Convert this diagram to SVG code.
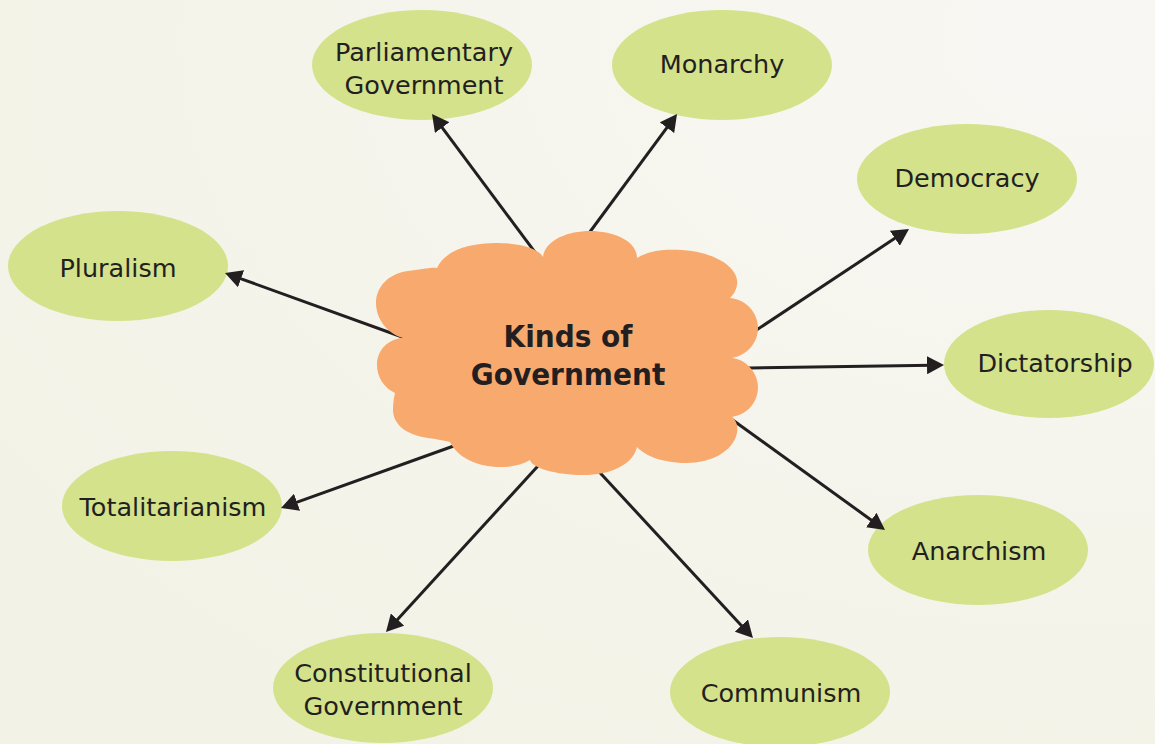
<svg xmlns="http://www.w3.org/2000/svg" width="1155" height="744" viewBox="0 0 1155 744">
  <defs>
    <radialGradient id="bg" cx="0.95" cy="0.05" r="1.2">
      <stop offset="0" stop-color="#f8f7f3"/>
      <stop offset="1" stop-color="#f3f2e6"/>
    </radialGradient>
    <marker id="arrow" markerUnits="userSpaceOnUse" markerWidth="18" markerHeight="18" refX="5" refY="9" orient="auto">
      <path d="M0,0 L17,9 L0,18 z" fill="#231f20"/>
    </marker>
    <style>
      .node ellipse { fill: #d4e28b; }
      .node text { font-family: "DejaVu Sans", "Liberation Sans", sans-serif; font-size: 25.5px; fill: #231f20; text-anchor: middle; }
      #connectors line { stroke: #231f20; stroke-width: 3; marker-end: url(#arrow); }
      .cloud path { fill: #f8a96e; }
      .cloud text { font-family: "DejaVu Sans", "Liberation Sans", sans-serif; font-weight: bold; font-size: 28px; fill: #231f20; text-anchor: middle; }
    </style>
  </defs>

  <rect width="1155" height="744" fill="url(#bg)"/>

  <!-- outer nodes -->
  <g id="parliamentary" class="node">
    <ellipse cx="422" cy="65" rx="110" ry="55"/>
    <text x="424" y="61">Parliamentary</text>
    <text x="424" y="94">Government</text>
  </g>
  <g id="monarchy" class="node">
    <ellipse cx="722" cy="65" rx="110" ry="55"/>
    <text x="722" y="73">Monarchy</text>
  </g>
  <g id="democracy" class="node">
    <ellipse cx="967" cy="179" rx="110" ry="55"/>
    <text x="967" y="187">Democracy</text>
  </g>
  <g id="dictatorship" class="node">
    <ellipse cx="1049" cy="364" rx="105" ry="54"/>
    <text x="1055" y="372">Dictatorship</text>
  </g>
  <g id="anarchism" class="node">
    <ellipse cx="978" cy="550" rx="110" ry="55"/>
    <text x="979" y="560">Anarchism</text>
  </g>
  <g id="communism" class="node">
    <ellipse cx="780" cy="692" rx="110" ry="55"/>
    <text x="781" y="702">Communism</text>
  </g>
  <g id="constitutional" class="node">
    <ellipse cx="383" cy="688" rx="110" ry="55"/>
    <text x="383" y="682">Constitutional</text>
    <text x="383" y="715">Government</text>
  </g>
  <g id="totalitarianism" class="node">
    <ellipse cx="172" cy="506" rx="110" ry="55"/>
    <text x="173" y="516">Totalitarianism</text>
  </g>
  <g id="pluralism" class="node">
    <ellipse cx="118" cy="266" rx="110" ry="55"/>
    <text x="118" y="277">Pluralism</text>
  </g>

  <!-- arrows from the centre outwards -->
  <g id="connectors">
    <line x1="546" y1="267" x2="439.2" y2="123.6"/>
    <line x1="581" y1="244" x2="669.9" y2="123.7"/>
    <line x1="747.5" y1="336" x2="899" y2="235.6"/>
    <line x1="735" y1="368.2" x2="932" y2="365.2"/>
    <line x1="723" y1="413" x2="875.3" y2="523"/>
    <line x1="591" y1="463" x2="744.8" y2="629.2"/>
    <line x1="548" y1="455" x2="394.1" y2="623.2"/>
    <line x1="462" y1="443" x2="292.3" y2="503.9"/>
    <line x1="416" y1="342" x2="236.3" y2="277.1"/>
  </g>

  <!-- central cloud: one outline of rounded lobes -->
  <g id="kinds-of-government" class="cloud">
    <path d="M437,268
             C445,250 470,243 497,243 C520,243 538,248 543,257
             C545,240 568,231 590,231 C612,231 637,240 637,258
             C650,250 665,249 682,250 C715,252 740,268 737,285 C736,291 733,295 730,298
             C748,300 758,314 758,328 C758,342 748,355 732,358
             C748,360 758,374 758,387 C758,402 748,414 732,417
             C737,421 738,427 737,433 C733,452 710,463 687,463 C663,463 645,456 637,447
             C633,465 610,475 583,475 C556,475 532,468 530,460
             C522,465 512,467 500,467 C478,467 458,458 450,442
             C442,440 436,439 428,438 C406,435 393,424 393,410 C393,403 394,397 395,393
             C384,388 377,377 377,365 C377,350 388,339 403,338
             C386,333 376,318 376,303 C376,286 390,273 408,271 C420,270 430,267 437,268 Z"/>
    <g transform="translate(0,-36.6) scale(1,1.1)">
      <text x="568" y="348.7">Kinds of</text>
      <text x="568" y="383.3">Government</text>
    </g>
  </g>
</svg>
